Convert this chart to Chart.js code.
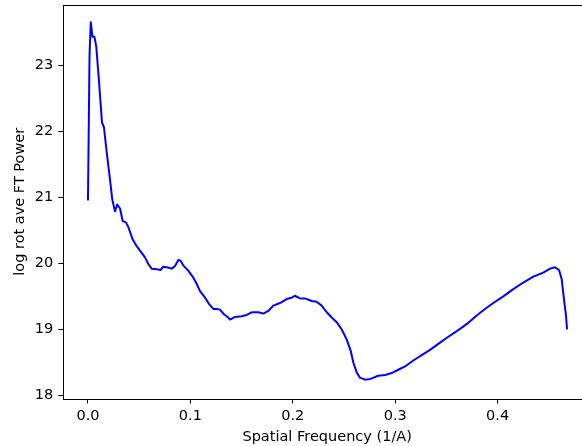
<!DOCTYPE html>
<html>
<head>
<meta charset="utf-8">
<script src="https://cdn.jsdelivr.net/npm/chart.js@4"></script>
<style>
  html, body { margin: 0; padding: 0; background: #fff; overflow: hidden; }
  #plot { display: block; }
</style>
</head>
<body>
<canvas id="plot" width="600" height="446"></canvas>
<script>
// spatial frequency (1/A) and log rotational average of FT power
const freq = [
  0.000, 0.0015, 0.0027, 0.0044, 0.0063, 0.0081, 0.0104, 0.0137, 0.0156, 0.0183,
  0.0215, 0.0237, 0.0264, 0.0286, 0.0313, 0.0339, 0.0371, 0.0394, 0.0437, 0.0476,
  0.0524, 0.0557, 0.0589, 0.0622, 0.0671, 0.0710, 0.0735, 0.0769, 0.0817, 0.0850,
  0.0882, 0.0905, 0.0930, 0.0979, 0.1022, 0.1055, 0.1094, 0.1143, 0.1185, 0.1224,
  0.1257, 0.1289, 0.1328, 0.1370, 0.1387, 0.1436, 0.1501, 0.1550, 0.1599, 0.1663,
  0.1712, 0.1761, 0.1810, 0.1875, 0.1940, 0.1989, 0.2021, 0.2070, 0.2119, 0.2185,
  0.2233, 0.2282, 0.2331, 0.2380, 0.2429, 0.2478, 0.2526, 0.2565, 0.2591, 0.2624,
  0.2656, 0.2705, 0.2754, 0.2771, 0.2835, 0.2900, 0.2966, 0.3030, 0.3096, 0.3177,
  0.3259, 0.3340, 0.3438, 0.3519, 0.3616, 0.3714, 0.3796, 0.3877, 0.3958, 0.4056,
  0.4153, 0.4251, 0.4349, 0.4446, 0.4512, 0.4561, 0.4600, 0.4626, 0.4648, 0.4668,
  0.4678
];
const logPower = [
  20.95, 23.13, 23.65, 23.43, 23.43, 23.28, 22.83, 22.13, 22.06, 21.68,
  21.27, 20.97, 20.79, 20.89, 20.83, 20.64, 20.62, 20.55, 20.36, 20.26,
  20.16, 20.09, 19.99, 19.92, 19.91, 19.90, 19.95, 19.94, 19.92, 19.96,
  20.05, 20.04, 19.97, 19.89, 19.80, 19.71, 19.58, 19.48, 19.38, 19.31,
  19.31, 19.30, 19.23, 19.18, 19.15, 19.19, 19.20, 19.22, 19.26, 19.26,
  19.24, 19.28, 19.36, 19.40, 19.46, 19.48, 19.51, 19.47, 19.47, 19.43,
  19.42, 19.36, 19.26, 19.18, 19.11, 19.00, 18.85, 18.68, 18.50, 18.35,
  18.27, 18.24, 18.25, 18.26, 18.30, 18.31, 18.34, 18.39, 18.44, 18.53,
  18.61, 18.69, 18.80, 18.89, 18.99, 19.10, 19.21, 19.31, 19.40, 19.50,
  19.61, 19.71, 19.80, 19.86, 19.92, 19.94, 19.90, 19.76, 19.46, 19.21,
  19.00
];
const xTicks = [0.0, 0.1, 0.2, 0.3, 0.4];
const yTicks = [18, 19, 20, 21, 22, 23];

const FONT = { family: 'DejaVu Sans', size: 14.5 };

// matplotlib style frame round the plot area
const frame = {
  id: 'frame',
  afterDraw(chart) {
    const { ctx, chartArea: a } = chart;
    ctx.save();
    ctx.strokeStyle = '#000';
    ctx.lineWidth = 1;
    ctx.strokeRect(Math.round(a.left) + 0.5, Math.round(a.top) + 0.5,
                   Math.round(a.right - a.left), Math.round(a.bottom - a.top));
    ctx.restore();
  }
};

function noPad(s) {
  s.paddingTop = 0; s.paddingBottom = 0; s.paddingLeft = 0; s.paddingRight = 0;
}

new Chart(document.getElementById('plot'), {
  type: 'line',
  data: {
    datasets: [{
      data: freq.map((f, i) => ({ x: f, y: logPower[i] })),
      borderColor: '#0000ff',
      borderWidth: 2,
      borderJoinStyle: 'round',
      pointRadius: 0,
      tension: 0,
      fill: false
    }]
  },
  options: {
    responsive: false,
    animation: false,
    events: [],
    layout: { padding: { top: 5, right: 9, left: 0, bottom: 0 } },
    plugins: { legend: { display: false }, tooltip: { enabled: false } },
    scales: {
      x: {
        type: 'linear',
        min: -0.0241,
        max: 0.4912,
        afterFit: s => { s.height = 47.5; noPad(s); },
        afterBuildTicks: s => { s.ticks = xTicks.map(v => ({ value: v })); },
        ticks: {
          color: '#000', font: FONT, padding: 4, autoSkip: false, maxRotation: 0,
          callback: v => v.toFixed(1)
        },
        grid: { drawOnChartArea: false, tickLength: 5, tickColor: '#000' },
        border: { display: false },
        title: {
          display: true, text: 'Spatial Frequency (1/A)', color: '#000', font: FONT,
          padding: { top: 0, bottom: 0 }
        }
      },
      y: {
        type: 'linear',
        min: 17.955,
        max: 23.91,
        afterFit: s => { s.width = 63.3; noPad(s); },
        afterBuildTicks: s => { s.ticks = yTicks.map(v => ({ value: v })); },
        ticks: { color: '#000', font: FONT, padding: 5, autoSkip: false },
        grid: { drawOnChartArea: false, tickLength: 5, tickColor: '#000' },
        border: { display: false },
        title: {
          display: true, text: 'log rot ave FT Power', color: '#000', font: FONT,
          padding: { top: 12, bottom: 0 }
        }
      }
    }
  },
  plugins: [frame]
});
</script>
</body>
</html>
